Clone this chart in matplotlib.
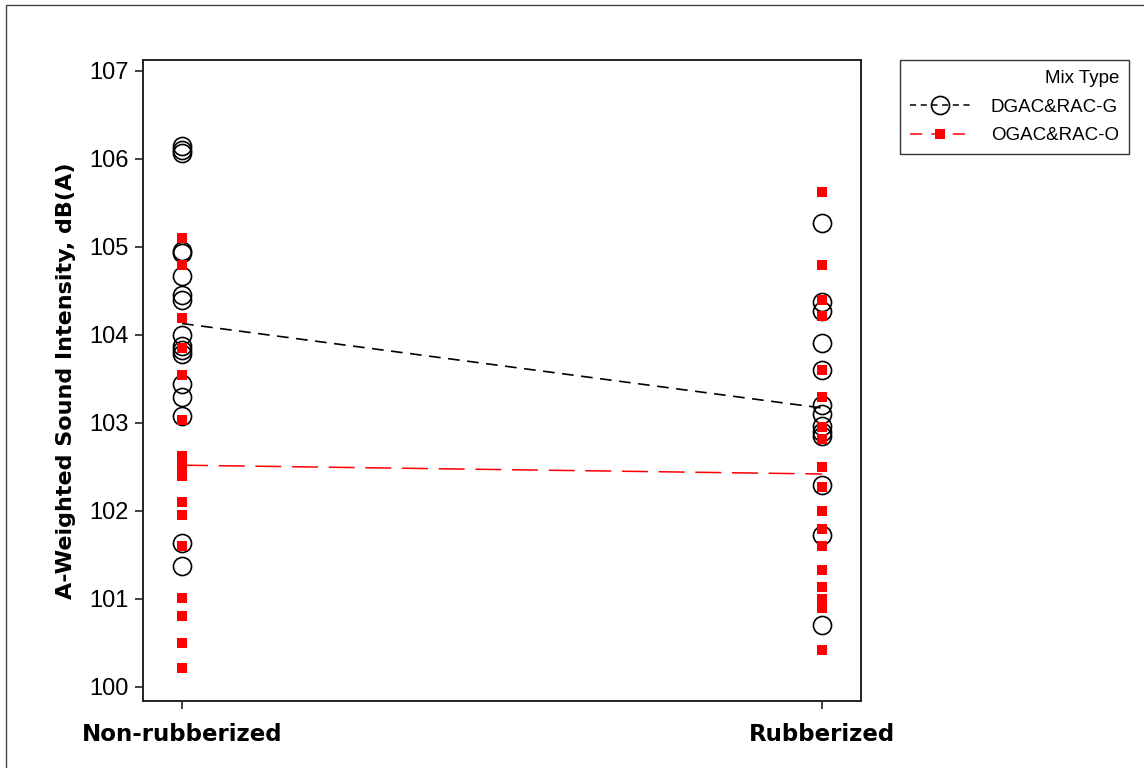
import matplotlib
matplotlib.use("Agg")
import matplotlib.pyplot as plt
from matplotlib.lines import Line2D
from matplotlib.patches import Rectangle

# categories on the x axis
categories = ["Non-rubberized", "Rubberized"]

# DGAC & RAC-G (open circles)
dg_nonrub = [106.15, 106.10, 106.07, 104.95, 104.93, 104.67, 104.45, 104.40, 104.00,
             103.88, 103.83, 103.78, 103.44, 103.30, 103.08, 101.63, 101.37]
dg_rub = [105.27, 104.38, 104.27, 103.91, 103.60, 103.20, 103.10, 102.97, 102.90,
          102.85, 102.30, 101.73, 100.70]

# OGAC & RAC-O (red squares)
og_nonrub = [105.10, 104.80, 104.19, 103.85, 103.55, 103.03, 102.62, 102.55, 102.45,
             102.40, 102.10, 101.95, 101.60, 101.01, 100.81, 100.50, 100.22]
og_rub = [105.63, 104.80, 104.40, 104.22, 103.60, 103.30, 102.95, 102.82, 102.50,
          102.27, 102.00, 101.80, 101.60, 101.33, 101.14, 101.00, 100.90, 100.42]

# group means (connecting lines)
dg_mean = [104.13, 103.17]
og_mean = [102.52, 102.42]

fig = plt.figure(figsize=(11.44, 7.68), dpi=100)
ax = fig.add_axes([143 / 1144, 1 - 701 / 768, (861 - 143) / 1144, (701 - 60) / 768])

# thin grey frame around the figure (only left/top visible in the original)
fig.patches.append(Rectangle((6 / 1144, -0.1), 1.2, (768 - 5) / 768 + 0.1,
                             transform=fig.transFigure, fill=False,
                             edgecolor="#444444", linewidth=1.0))

xpos = list(range(len(categories)))

# mean lines
ax.plot(xpos, dg_mean, color="black", linewidth=1.2, dashes=(7, 4.5), zorder=2)
ax.plot(xpos, og_mean, color="red", linewidth=1.1, dashes=(17, 7), zorder=2)

# individual values
ax.plot([xpos[0]] * len(dg_nonrub), dg_nonrub, linestyle="none", marker="o",
        markersize=13, markerfacecolor="none", markeredgecolor="black",
        markeredgewidth=1.2, zorder=3)
ax.plot([xpos[1]] * len(dg_rub), dg_rub, linestyle="none", marker="o",
        markersize=13, markerfacecolor="none", markeredgecolor="black",
        markeredgewidth=1.2, zorder=3)
ax.plot([xpos[0]] * len(og_nonrub), og_nonrub, linestyle="none", marker="s",
        markersize=7.5, color="red", markeredgewidth=0, zorder=4)
ax.plot([xpos[1]] * len(og_rub), og_rub, linestyle="none", marker="s",
        markersize=7.5, color="red", markeredgewidth=0, zorder=4)

ax.set_xlim(-0.061, 1.061)
ax.set_ylim(99.84, 107.125)
ax.set_yticks(range(100, 108))
ax.set_yticklabels([str(v) for v in range(100, 108)], fontsize=17,
                   family="Liberation Sans")
ax.set_xticks(xpos)
ax.set_xticklabels(categories, fontsize=16.5, fontweight="bold",
                   family="DejaVu Sans")
ax.tick_params(axis="both", direction="out", length=6, width=1.2, color="#222222")
ax.tick_params(axis="x", pad=10)
ax.tick_params(axis="y", pad=4)
for s in ax.spines.values():
    s.set_linewidth(1.4)
    s.set_color("#222222")

ax.set_ylabel("A-Weighted Sound Intensity, dB(A)", fontsize=16,
              fontweight="bold", family="DejaVu Sans", labelpad=10)

handles = [
    Line2D([], [], color="black", linewidth=1.1, dashes=(4, 3), marker="o",
           markersize=13, markerfacecolor="none", markeredgewidth=1.2),
    Line2D([], [], color="red", linewidth=1.1, dashes=(8, 6), marker="s",
           markersize=7.5, markeredgewidth=0),
]
leg = fig.legend(handles, ["DGAC&RAC-G", "OGAC&RAC-O"], title="Mix Type",
                 loc="upper left", bbox_to_anchor=(900 / 1144, 1 - 60 / 768),
                 borderaxespad=0,
                 prop={"family": "Liberation Sans", "size": 13.5},
                 title_fontproperties={"family": "Liberation Sans", "size": 13.5},
                 frameon=True, fancybox=False, edgecolor="black",
                 alignment="right", handlelength=3.2, borderpad=0.55,
                 labelspacing=0.6, handletextpad=1.1)
leg.get_frame().set_linewidth(1.0)

fig.savefig("out.png", dpi=100)
